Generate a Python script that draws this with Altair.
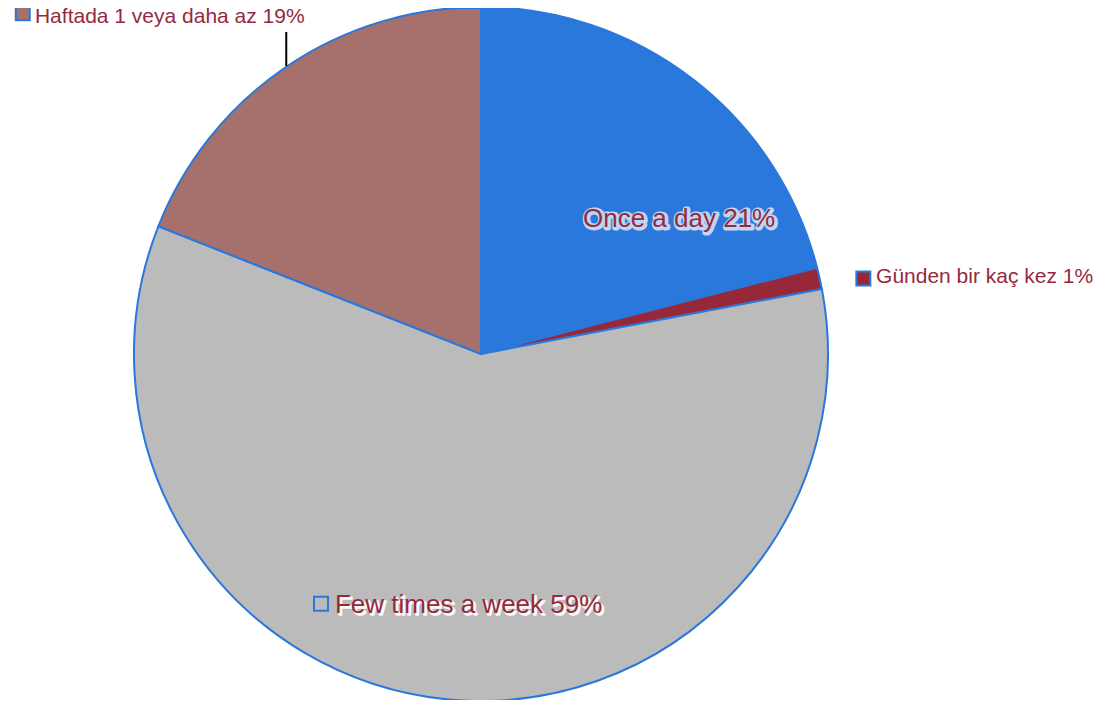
import altair as alt
import pandas as pd

categories = ["Once a day", "Günden bir kaç kez", "Few times a week", "Haftada 1 veya daha az"]
values = [21, 1, 59, 19]
labels = ["Once a day 21%", "Günden bir kaç kez 1%", "Few times a week 59%", "Haftada 1 veya daha az 19%"]
colors = ["#2a78dc", "#96283a", "#bbbbbb", "#a6706c"]

df = pd.DataFrame({"cat": categories, "value": values, "label": labels, "idx": list(range(len(categories)))})

CX, CY, R = 473, 346, 347
TEXT = "#962a3c"
BLUE = "#2a78dc"
FONT = "Liberation Sans"

base = alt.Chart(df)

pie = base.mark_arc(outerRadius=R, stroke=BLUE, strokeWidth=2).encode(
    theta=alt.Theta("value:Q", stack=True),
    color=alt.Color("cat:N", scale=alt.Scale(domain=categories, range=colors), legend=None),
    order=alt.Order("idx:Q"),
    x=alt.value(CX),
    y=alt.value(CY),
)


def anchor(cat, f):
    return (
        base.transform_joinaggregate(total="sum(value)")
        .transform_stack(stack="value", groupby=[], as_=["v0", "v1"],
                         sort=[alt.SortField("idx", order="ascending")])
        .transform_calculate(ang="PI * (datum.v0 + datum.v1) / datum.total")
        .transform_calculate(px=f"{CX} + {R * f} * sin(datum.ang)",
                             py=f"{CY} - {R * f} * cos(datum.ang)")
        .transform_calculate(py2="datum.py - 35")
        .transform_filter(alt.datum.cat == cat)
    )


XY = dict(x=alt.X("px:Q", scale=None, axis=None), y=alt.Y("py:Q", scale=None, axis=None))


def label(cat, f, dx, dy, size, halo=None):
    a = anchor(cat, f)
    out = []
    if halo is not None:
        hdx, hdy, sw, op = halo
        out.append(a.mark_text(align="left", baseline="alphabetic", font=FONT, fontSize=size,
                               dx=dx + hdx, dy=dy + hdy, fill="white", stroke="white",
                               strokeWidth=sw, opacity=op, strokeJoin="round")
                   .encode(text="label:N", **XY))
    out.append(a.mark_text(align="left", baseline="alphabetic", font=FONT, fontSize=size,
                           dx=dx, dy=dy, color=TEXT)
               .encode(text="label:N", **XY))
    return out


def marker(cat, f, xo, yo, fill):
    return anchor(cat, f).mark_square(size=196, filled=True, fill=fill, stroke=BLUE, strokeWidth=2,
                                       opacity=1, xOffset=xo, yOffset=yo).encode(**XY)


leader = anchor(categories[3], 1.0).mark_rule(color="black", strokeWidth=2, xOffset=0.3, yOffset=-1).encode(
    x=alt.X("px:Q", scale=None, axis=None),
    y=alt.Y("py:Q", scale=None, axis=None),
    y2="py2:Q",
)

layers = [pie, leader]
layers += label(categories[0], 0.6, -25.6, 37.8, 26, halo=(1, 1, 5, 0.7))
layers += label(categories[2], 0.72, -122.5, 10.3, 26, halo=(2, 2, 1.5, 0.9))
layers += label(categories[1], 1.0, 56.4, 5, 21)
layers += label(categories[3], 1.0, -251, -43.7, 21)
layers += [
    marker(categories[1], 1.0, 43.7, 0.2, colors[1]),
    marker(categories[2], 0.72, -136.5, 1.0, colors[2]),
    marker(categories[3], 1.0, -263.2, -53.7, colors[3]),
]

chart = alt.layer(*layers).properties(
    width=1088, height=692, autosize="none", padding=0
).configure_view(stroke=None)

chart.save("out.html", embed_options={"renderer": "svg", "actions": False})
